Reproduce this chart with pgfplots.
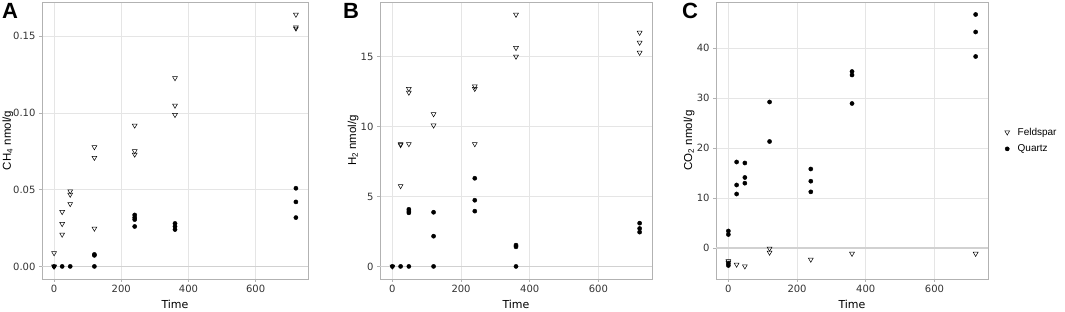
\documentclass[border=0pt]{standalone}
\usepackage{pgfplots}
\pgfplotsset{compat=1.18}
\usepackage{pgfplotstable}
\usepackage{fontspec}
\setmainfont{DejaVu Sans}
\newfontfamily\arial{Liberation Sans}
\definecolor{grey70}{gray}{0.7}
\definecolor{grey87}{gray}{0.90}
\definecolor{grey30}{gray}{0.2}
\definecolor{grey80}{gray}{0.82}

\pgfplotstableread{
t v
0 0.0087
0 0
0 0
24 0.0355
24 0.0277
24 0.0208
48 0.049
48 0.0468
48 0.0407
120 0.0777
120 0.0708
120 0.0247
240 0.0918
240 0.0751
240 0.0729
360 0.1227
360 0.1048
360 0.0987
720 0.164
720 0.1558
720 0.155
}\AFeld
\pgfplotstableread{
t v
0 0
24 0
48 0
120 0.0078
120 0.0072
120 0
240 0.0335
240 0.0318
240 0.0305
240 0.026
360 0.028
360 0.026
360 0.024
720 0.0509
720 0.042
720 0.0318
}\AQuartz
\pgfplotstableread{
t v
0 0
24 8.75
24 8.68
24 5.75
48 12.7
48 12.43
48 8.75
120 10.89
120 10.08
240 12.88
240 12.7
240 8.75
360 18.0
360 15.62
360 15.0
720 16.71
720 16.0
720 15.28
}\BFeld
\pgfplotstableread{
t v
0 0
24 0
48 4.08
48 3.95
48 3.83
48 0
120 3.87
120 2.16
120 0
240 6.3
240 4.73
240 3.95
360 1.52
360 1.4
360 0
720 3.09
720 2.71
720 2.45
}\BQuartz
\pgfplotstableread{
t v
0 -2.6
0 -2.9
24 -3.3
48 -3.65
120 -0.1
120 -0.9
240 -2.3
360 -1.13
720 -1.13
}\CFeld
\pgfplotstableread{
t v
0 3.4
0 2.7
0 -3.1
0 -3.5
24 17.2
24 12.6
24 10.8
48 17.0
48 14.1
48 12.96
120 29.2
120 21.3
240 15.8
240 13.36
240 11.23
360 35.3
360 34.6
360 28.9
720 46.7
720 43.2
720 38.3
}\CQuartz

\pgfplotsset{
  panel/.style={
    scale only axis, height=277pt, anchor=south west,
    xmin=-36, xmax=756, xtick={0,200,400,600},
    axis line style={grey70, line width=0.9pt},
    grid=major, grid style={grey87, line width=0.6pt},
    tick align=outside, major tick length=3pt,
    tick style={grey70, line width=0.6pt},
    tick pos=left,
    ticklabel style={font=\fontsize{10}{12}\selectfont, text=grey30},
    /pgf/number format/assume math mode=true,
    xlabel={Time},
    xlabel style={font=\fontsize{11}{13}\selectfont},
  },
  ylab/.style={ylabel style={at={(axis description cs:#1,0.5)}, anchor=center,
    rotate=0, font=\arial\fontsize{11.5}{13}\selectfont}},
  feld/.style={only marks, mark=triangle, mark size=2.8pt,
    mark options={rotate=180, fill=white, draw=black, line width=0.5pt}},
  quartz/.style={only marks, mark=*, mark size=2.1pt,
    mark options={fill=black, draw=black}},
  zeroline/.style={grey80, line width=1.5pt, forget plot},
}

\begin{document}
\begin{tikzpicture}
\useasboundingbox (0,0) rectangle (1065pt,312pt);

\begin{axis}[panel, at={(42pt,33pt)}, width=266pt,
  ymin=-0.0082, ymax=0.1722, ytick={0,0.05,0.10,0.15},
  yticklabel style={/pgf/number format/.cd, fixed, precision=2, zerofill},
  ylab=-0.128,
  ylabel={CH\textsubscript{4} nmol/g}]
\addplot[zeroline] coordinates {(-36,0) (756,0)};
\addplot[feld] table[x=t, y=v] {\AFeld};
\addplot[quartz] table[x=t, y=v] {\AQuartz};
\end{axis}

\begin{axis}[panel, at={(380pt,33pt)}, width=272pt,
  ymin=-0.9, ymax=18.9, ytick={0,5,10,15},
  ylab=-0.099,
  ylabel={H\textsubscript{2} nmol/g}]
\addplot[zeroline] coordinates {(-36,0) (756,0)};
\addplot[feld] table[x=t, y=v] {\BFeld};
\addplot[quartz] table[x=t, y=v] {\BQuartz};
\end{axis}

\begin{axis}[panel, at={(716pt,33pt)}, width=272pt,
  ymin=-6.2, ymax=49.2, ytick={0,10,20,30,40},
  ylab=-0.099,
  ylabel={CO\textsubscript{2} nmol/g},
  legend style={at={(1.05,0.5)}, anchor=west, draw=none, fill=none,
    font=\arial\fontsize{10}{12}\selectfont, row sep=4pt, column sep=6pt},
  legend cell align=left]
\addplot[zeroline] coordinates {(-36,0) (756,0)};
\addplot[feld] table[x=t, y=v] {\CFeld};
\addlegendentry{Feldspar}
\addplot[quartz] table[x=t, y=v] {\CQuartz};
\addlegendentry{Quartz}
\end{axis}

\node[anchor=north west, inner sep=0pt] at (2pt,309pt) {\arial\bfseries\fontsize{22}{24}\selectfont A};
\node[anchor=north west, inner sep=0pt] at (343pt,309pt) {\arial\bfseries\fontsize{22}{24}\selectfont B};
\node[anchor=north west, inner sep=0pt] at (682pt,309pt) {\arial\bfseries\fontsize{22}{24}\selectfont C};
\end{tikzpicture}
\end{document}
